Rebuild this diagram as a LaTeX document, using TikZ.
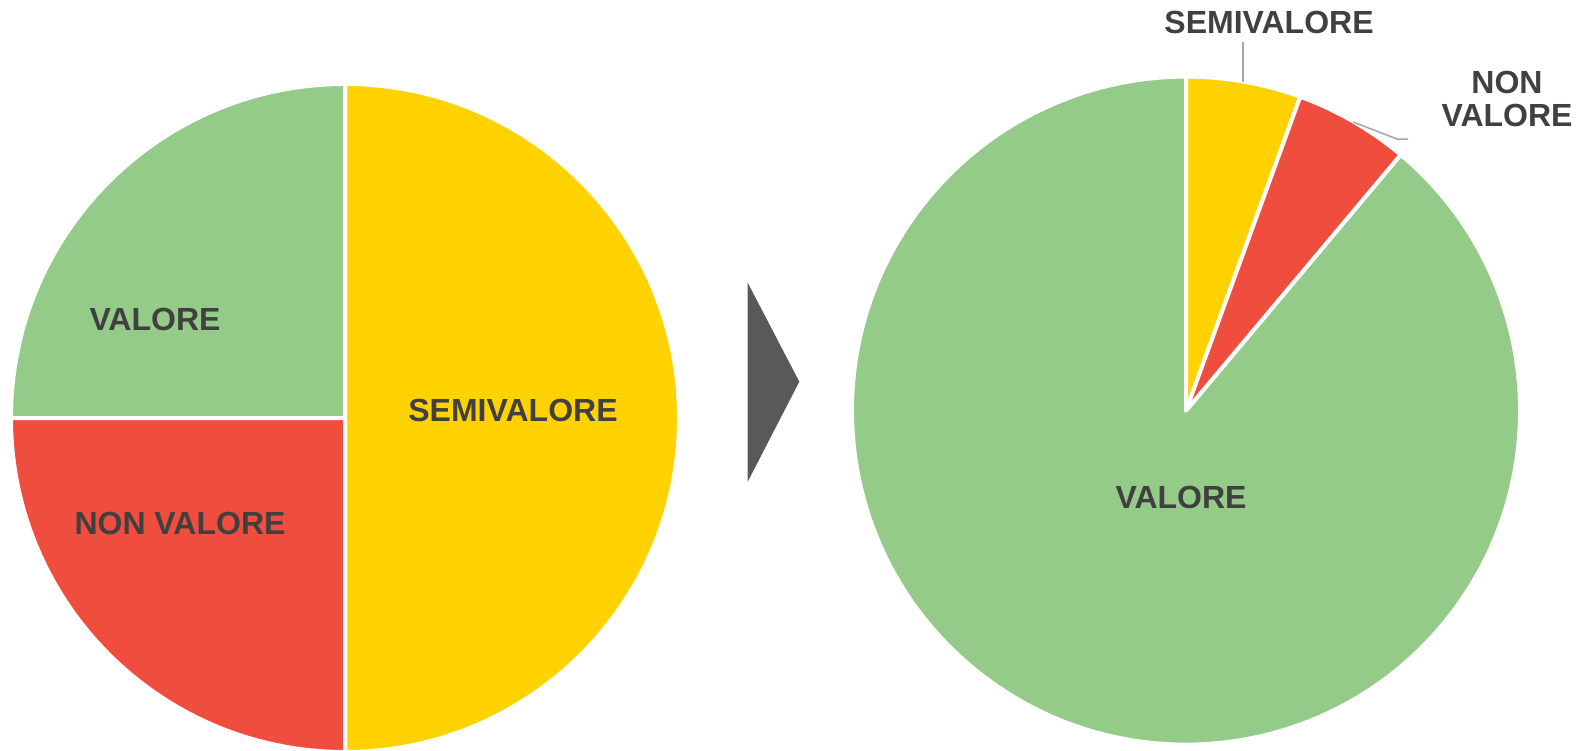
\documentclass[tikz,border=0pt]{standalone}
\usepackage{fontspec}
\setmainfont{Liberation Sans}
\definecolor{cgreen}{HTML}{95CB89}
\definecolor{cyellow}{HTML}{FFD200}
\definecolor{cred}{HTML}{EF4E3F}
\definecolor{textgray}{HTML}{404040}
\definecolor{leadgray}{HTML}{A6A6A6}
\definecolor{arrowgray}{HTML}{595959}
\begin{document}
\begin{tikzpicture}[x=1pt,y=1pt,
  lbl/.style={font=\fontsize{32}{33}\selectfont\bfseries, text=textgray, inner sep=0pt, align=center},
  slice/.style={draw=white, line width=4pt, line join=round},
  leader/.style={draw=leadgray, line width=1.5pt}]
\useasboundingbox (0,0) rectangle (1586,-750);
% left pie
\coordinate (L) at (345,-418);
\fill[cyellow, slice] (L) -- ++(90:334) arc[start angle=90, end angle=-90, radius=334] -- cycle;
\fill[cgreen, slice] (L) -- ++(90:334) arc[start angle=90, end angle=180, radius=334] -- cycle;
\fill[cred, slice] (L) -- ++(180:334) arc[start angle=180, end angle=270, radius=334] -- cycle;
\node[lbl] (lval) at (155,-319) {VALORE};
\node[lbl] (lsemi) at (513,-410) {SEMIVALORE};
\node[lbl] (lnon) at (180,-523) {NON VALORE};
% arrow
\fill[arrowgray] (747.7,-282.7) -- (799.3,-381.7) -- (747.7,-481.7) -- cycle;
% right pie
\coordinate (R) at (1186,-410.6);
\fill[cgreen, slice] (R) -- ++(50:334) arc[start angle=50, end angle=-270, radius=334] -- cycle;
\fill[cyellow, slice] (R) -- ++(90:334) arc[start angle=90, end angle=70, radius=334] -- cycle;
\fill[cred, slice] (R) -- ++(70:334) arc[start angle=70, end angle=50, radius=334] -- cycle;
\node[lbl] (rval) at (1181,-497) {VALORE};
\node[lbl] (rsemi) at (1269,-22) {SEMIVALORE};
\node[lbl] (rnon) at (1507,-98.5) {NON\\VALORE};
\coordinate (sa) at (1243,-42);
\coordinate (sb) at (1243,-82);
\draw[leader] (sa) -- (sb);
\coordinate (na) at (1353,-122);
\coordinate (nb) at (1397,-139);
\coordinate (nc) at (1408,-139);
\draw[leader] (na) -- (nb) -- (nc);
\end{tikzpicture}
\end{document}
